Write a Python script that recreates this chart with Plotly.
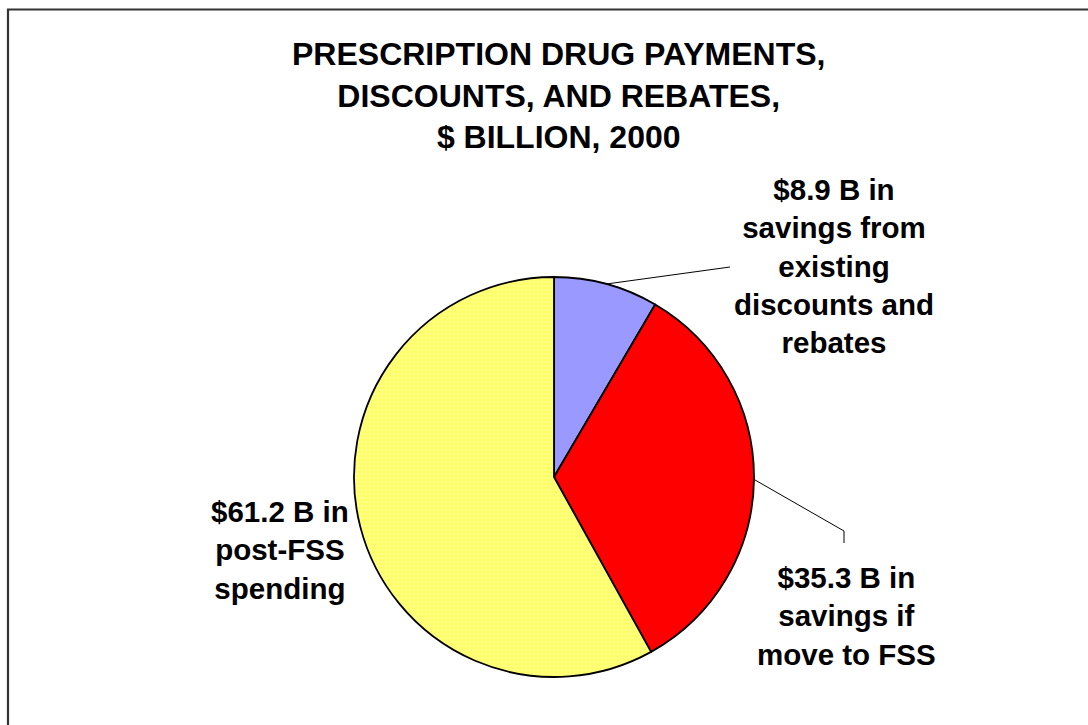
import math
import plotly.graph_objects as go

# ---- data ----
labels = ["Savings from existing discounts and rebates",
          "Savings if move to FSS",
          "Post-FSS spending"]
values = [8.9, 35.3, 61.2]
label_texts = ["$8.9 B in<br>savings from<br>existing<br>discounts and<br>rebates",
               "$35.3 B in<br>savings if<br>move to FSS",
               "$61.2 B in<br>post-FSS<br>spending"]
colors = ["#9999FF", "#FF0000", "#FFFF66"]
title_text = "PRESCRIPTION DRUG PAYMENTS,<br>DISCOUNTS, AND REBATES,<br>$ BILLION, 2000"

# ---- layout geometry (pixels) ----
W, H = 1088, 725
CX, CY, R = 554, 477, 200
FONT = "Liberation Sans, Arial, sans-serif"

def px(x):
    return x / W

def py(y):
    return 1 - y / H

fig = go.Figure(go.Pie(
    labels=labels,
    values=values,
    sort=False,
    direction="clockwise",
    rotation=0,
    textinfo="none",
    hoverinfo="label+value",
    marker=dict(
        colors=colors,
        line=dict(color="#000000", width=1.8),
        pattern=dict(shape=["", "", "."], fillmode="overlay",
                     fgcolor="#FFFFCC", size=4, solidity=0.25),
    ),
    domain=dict(x=[px(CX - R), px(CX + R)], y=[py(CY + R), py(CY - R)]),
    showlegend=False,
))

# label anchor positions (pixels)
label_pos = [(834, 266), (846, 616), (280, 550)]
annotations = []
for t, (lx, ly) in zip(label_texts, label_pos):
    annotations.append(dict(
        text="<b>" + t + "</b>", x=px(lx), y=py(ly), xref="paper", yref="paper",
        showarrow=False, align="center", xanchor="center", yanchor="middle",
        font=dict(family=FONT, size=29.5, color="#000000"),
    ))
annotations.append(dict(
    text="<b>" + title_text + "</b>", x=px(558), y=py(95), xref="paper", yref="paper",
    showarrow=False, align="center", xanchor="center", yanchor="middle",
    font=dict(family=FONT, size=32, color="#000000"),
))

# leader lines from slice mid-angles
total = sum(values)
cum = 0
mids = []
for v in values:
    mids.append((cum + v / 2) / total)
    cum += v

def edge_point(frac):
    a = 2 * math.pi * frac
    return CX + R * math.sin(a), CY - R * math.cos(a)

shapes = []
x0, y0 = edge_point(mids[0])
shapes.append(dict(type="line", xref="paper", yref="paper",
                   x0=px(x0), y0=py(y0), x1=px(730), y1=py(267),
                   line=dict(color="#000000", width=1)))
x0, y0 = edge_point(mids[1])
shapes.append(dict(type="path", xref="paper", yref="paper",
                   path=f"M {px(x0)} {py(y0)} L {px(844)} {py(531)} L {px(844)} {py(543)}",
                   line=dict(color="#000000", width=1)))
# outer border
shapes.append(dict(type="rect", xref="paper", yref="paper",
                   x0=px(8), y0=-0.05, x1=1.05, y1=py(9.5),
                   line=dict(color="#333333", width=2.2)))

fig.update_layout(
    width=W, height=H,
    margin=dict(l=0, r=0, t=0, b=0),
    paper_bgcolor="#FFFFFF", plot_bgcolor="#FFFFFF",
    annotations=annotations,
    shapes=shapes,
)

fig.write_html("out.html")
